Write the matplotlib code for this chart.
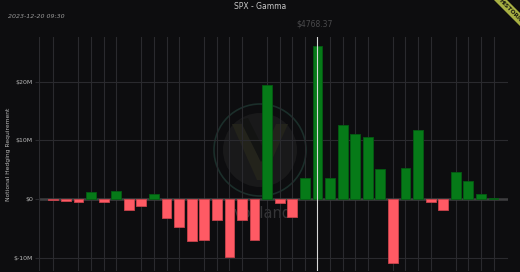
import matplotlib
matplotlib.use("Agg")
import matplotlib.pyplot as plt
from matplotlib.patches import Circle, Polygon
from matplotlib.ticker import FuncFormatter

# Net gamma exposure per strike, in $M (left to right)
gamma_musd = [
    -0.2, -0.4, -0.45, 1.2, -0.5, 1.4, -1.9, -1.2, 0.9, -3.2,
    -4.8, -7.1, -7.0, -3.5, -9.9, -3.6, -7.0, 19.5, -0.7, -3.0,
    3.5, 26.1, 3.6, 12.6, 11.0, 10.5, 5.1, -10.9, 5.2, 11.8,
    -0.45, -1.8, 4.6, 3.0, 0.9, 0.2,
]
spot_label = "$4768.37"
spot_pos = 20.95
title = "SPX - Gamma"
timestamp = "2023-12-20 09:30"
y_ticks = [-10, 0, 10, 20]

BG = "#0d0d0f"
GRID = "#2a2a2e"
GREEN = "#067a18"
GREEN_EDGE = "#045c12"
RED = "#ff5a64"
RED_EDGE = "#c9434c"

W, H = 520, 272
fig = plt.figure(figsize=(W / 100, H / 100), dpi=100, facecolor=BG)

def fx(px):
    return px / W

def fy(py):
    return 1 - py / H

# watermark layer behind the chart
wm = fig.add_axes([0, 0, 1, 1], zorder=0)
wm.set_xlim(0, W)
wm.set_ylim(H, 0)
wm.axis("off")
wm.set_facecolor(BG)
cx, cy = 260, 150
wm.add_patch(Circle((cx, cy), 46, fill=False, ec="#1b2e2a", lw=1.2))
wm.add_patch(Circle((cx, cy), 37, fc="#19191a", ec="none"))
wm.add_patch(Polygon([(cx - 28, cy - 26), (cx - 16, cy - 26), (cx, cy + 10),
                      (cx + 16, cy - 26), (cx + 28, cy - 26), (cx + 3, cy + 30),
                      (cx - 3, cy + 30)], closed=True, fc="#23231b", ec="none"))
wm.add_patch(Polygon([(cx - 20, cy - 30), (cx - 12, cy - 32), (cx + 6, cy + 4),
                      (cx + 1, cy + 12)], closed=True, fc="#131413", ec="none"))
wm.text(263, 213, "vol.land", fontsize=10.5, color="#353537", ha="center",
        va="center")

left, right, top, bottom = 38.5, 508, 37, 271
ax = fig.add_axes([fx(left), fy(bottom), fx(right) - fx(left), fy(top) - fy(bottom)],
                  zorder=1)
ax.patch.set_alpha(0)

x = list(range(len(gamma_musd)))
colors = [GREEN if v >= 0 else RED for v in gamma_musd]
edges = [GREEN_EDGE if v >= 0 else RED_EDGE for v in gamma_musd]
ax.bar(x, gamma_musd, width=0.78, color=colors, edgecolor=edges, linewidth=0.6,
       zorder=3)

ax.set_xlim(-1.18, 36.15)
ax.set_ylim(-12.27, 27.6)

for i in x:
    if i % 5 != 1:
        ax.axvline(i, color=GRID, lw=0.8, zorder=1)
for t in y_ticks:
    ax.axhline(t, color=GRID, lw=0.8, zorder=1)
ax.axhline(0, color="#3e3e40", lw=1.8, zorder=2)
ax.axvline(spot_pos, color="#d8d8d8", lw=0.8, zorder=4)

ax.set_yticks(y_ticks)
ax.yaxis.set_major_formatter(FuncFormatter(lambda v, _: f"${int(v)}M" if v else "$0"))
ax.tick_params(axis="y", length=3, color=GRID, labelsize=4.5, labelcolor="#b8b8b8",
               pad=1)
ax.set_xticks([])
for s in ax.spines.values():
    s.set_visible(False)
ax.axvline(-1.18, color=GRID, lw=0.8)

fig.text(fx(9), fy(154), "Notional Hedging Requirement", rotation=90, fontsize=4.3,
         color="#b8b8b8", ha="center", va="center")
fig.text(fx(260), fy(6.5), title, fontsize=5.5, color="#c8c8c8", ha="center",
         va="center")
fig.text(fx(8), fy(17), timestamp, fontsize=4.5, color="#9a9a9a", ha="left",
         va="center", fontstyle="italic")
fig.text(fx(315), fy(24), spot_label, fontsize=5.5, color="#4a4a4c", ha="center",
         va="center")

# corner ribbon
fig.patches.append(Polygon([(fx(494), fy(0)), (fx(507), fy(0)), (fx(520), fy(13)),
                            (fx(520), fy(26))], closed=True, fc="#a7b043", ec="none",
                           transform=fig.transFigure, figure=fig, zorder=5))
fig.text(fx(511), fy(11), "HISTORIC", rotation=-45, fontsize=4.3, color="#1a1a10",
         ha="center", va="center", fontweight="bold", zorder=6)

fig.savefig("out.png", dpi=100, facecolor=BG)
